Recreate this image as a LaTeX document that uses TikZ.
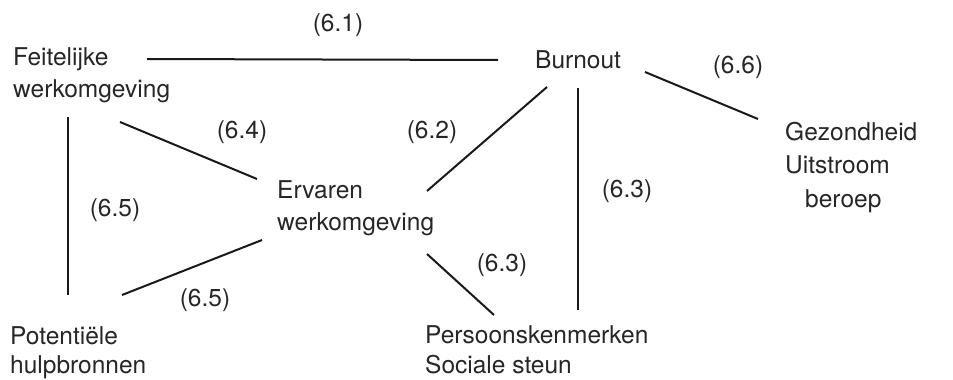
\documentclass[tikz,border=0pt]{standalone}
\usepackage{fontspec}
\setmainfont{TeX Gyre Heros}
\usepackage{tikz}
\usetikzlibrary{calc,positioning}

\begin{document}
\begin{tikzpicture}[x=1pt,y=-1pt,
  txt/.style={inner sep=0pt,align=left,text=black!85,font=\fontsize{24.5}{32}\selectfont},
  num/.style={inner sep=0pt,text=black!85,font=\fontsize{24.5}{30}\selectfont},
  link/.style={line width=2pt,draw=black!90}]
  \useasboundingbox (0,0) rectangle (953,380);
  \node[txt,anchor=base west] (feit) at (13,97) {Feitelijke\\werkomgeving};
  \node[txt,anchor=base west] (burn) at (535,68) {Burnout};
  \node[txt,anchor=base west,font=\fontsize{24.5}{33.5}\selectfont] (gez) at (785,207) {Gezondheid\\Uitstroom\\\hspace*{20pt}beroep};
  \node[txt,anchor=base west] (erv) at (277,230) {Ervaren\\werkomgeving};
  \node[txt,anchor=base west,font=\fontsize{24.5}{29}\selectfont] (pot) at (10,373) {Potentiële\\hulpbronnen};
  \node[txt,anchor=base west,font=\fontsize{24.5}{30}\selectfont] (pers) at (425,373) {Persoonskenmerken\\Sociale steun};
  \node[num] (l61) at (338,25) {(6.1)};
  \node[num] (l66) at (738,67) {(6.6)};
  \node[num] (l64) at (242,132) {(6.4)};
  \node[num] (l62) at (432,132) {(6.2)};
  \node[num] (l65a) at (115,210) {(6.5)};
  \node[num] (l63a) at (627,191) {(6.3)};
  \node[num] (l63b) at (502,265) {(6.3)};
  \node[num] (l65b) at (205,300) {(6.5)};
  \draw[link] ([shift={(134,-38)}]feit.base west) -- ([shift={(-37,-8)}]burn.base west);
  \draw[link] ([shift={(110,4)}]burn.base west) -- ([shift={(-27,-88)}]gez.base west);
  \draw[link] ([shift={(55,20)}]feit.base west) -- ([shift={(58,-78)}]pot.base west);
  \draw[link] ([shift={(107,25)}]feit.base west) -- ([shift={(-20,-51)}]erv.base west);
  \draw[link] ([shift={(12,19)}]burn.base west) -- ([shift={(150,-39)}]erv.base west);
  \draw[link] ([shift={(43,20)}]burn.base west) -- ([shift={(153,-63)}]pers.base west);
  \draw[link] ([shift={(112,-78)}]pot.base west) -- ([shift={(-15,10)}]erv.base west);
  \draw[link] ([shift={(150,24)}]erv.base west) -- ([shift={(69,-58)}]pers.base west);
\end{tikzpicture}
\end{document}
